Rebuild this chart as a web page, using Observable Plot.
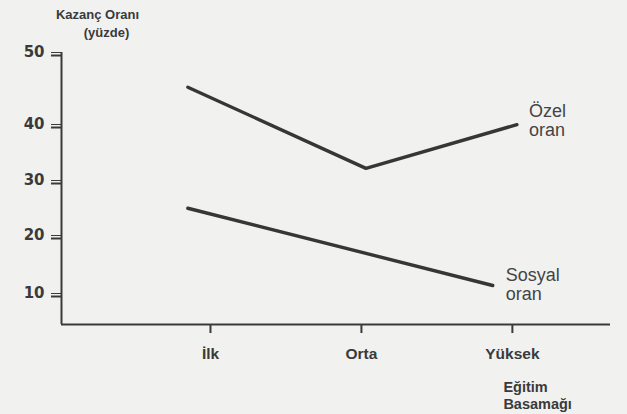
<!DOCTYPE html>
<html>
<head>
<meta charset="utf-8">
<script src="https://cdn.jsdelivr.net/npm/d3@7"></script>
<script src="https://cdn.jsdelivr.net/npm/@observablehq/plot@0.6"></script>
<style>
  html, body { margin: 0; padding: 0; background: #f1f1f0; }
  #chart svg { display: block; background: #f1f1f0; }
</style>
</head>
<body>
<div id="chart"></div>
<script>
// Education levels (x categories) and tick labels
const levels = ["İlk", "Orta", "Yüksek"];
const yTicks = [10, 20, 30, 40, 50];

// Series: x position in level units (0 = İlk, 1 = Orta, 2 = Yüksek), y = earnings rate (%)
const ozelX = [-0.15, 1.03, 2.03];
const ozelY = [45.6, 32.7, 40.4];
const sosyalX = [-0.15, 1.87];
const sosyalY = [25.5, 11.9];

const seriesNames = ["Özel\noran", "Sosyal\noran"];

const ozel = ozelX.map((x, i) => ({x, y: ozelY[i], s: "ozel"}));
const sosyal = sosyalX.map((x, i) => ({x, y: sosyalY[i], s: "sosyal"}));

const xMin = -0.987, xMax = 2.65;
const yMin = 5.2, yTop = 50.4;
const ink = "#3a3a3a";
const font = "'Liberation Sans', Arial, sans-serif";

const chart = Plot.plot({
  width: 627,
  height: 414,
  marginLeft: 61,
  marginRight: 17,
  marginTop: 52,
  marginBottom: 90,
  style: {background: "#f1f1f0", fontFamily: font, color: ink},
  x: {type: "linear", domain: [xMin, xMax], range: [61, 610]},
  y: {type: "linear", domain: [yMin, 10, 20, 30, 40, 50, yTop], range: [324, 296, 238, 183, 127, 55, 52]},
  marks: [
    // axis lines
    Plot.ruleY([yMin], {stroke: ink, strokeWidth: 2}),
    Plot.ruleX([xMin], {y1: yMin, y2: yTop, stroke: ink, strokeWidth: 2}),
    Plot.axisY({ticks: yTicks, tickSize: 10, tickPadding: 7, label: null, text: null, stroke: ink, strokeWidth: 2}),
    Plot.axisY({ticks: yTicks, tickSize: 10, tickPadding: 7, label: null, dy: -3, tick: null,
      fontSize: 15, fontWeight: "bold", fontFamily: "'DejaVu Sans', Verdana, sans-serif", fill: ink}),
    Plot.axisX({ticks: [0, 1, 2], tickFormat: (d) => levels[d], tickSize: 9, tickPadding: 14, label: null,
      fontSize: 15.5, fontWeight: "bold", stroke: ink, strokeWidth: 2, fill: ink}),
    // series lines
    Plot.line(ozel, {x: "x", y: "y", stroke: "#363636", strokeWidth: 3.4, strokeLinejoin: "round", strokeLinecap: "round"}),
    Plot.line(sosyal, {x: "x", y: "y", stroke: "#363636", strokeWidth: 3.4, strokeLinejoin: "round", strokeLinecap: "round"}),
    // series labels at line ends
    Plot.text([ozel[ozel.length - 1]], {x: "x", y: "y", text: () => seriesNames[0], textAnchor: "start",
      lineAnchor: "top", dx: 12, dy: -22, fontSize: 18, lineHeight: 1.1, fill: "#444"}),
    Plot.text([sosyal[sosyal.length - 1]], {x: "x", y: "y", text: () => seriesNames[1], textAnchor: "start",
      lineAnchor: "top", dx: 13, dy: -18, fontSize: 18, lineHeight: 1.05, fill: "#444"}),
    // y-axis title
    Plot.text(["Kazanç Oranı"], {frameAnchor: "top-left", dx: 36, dy: -34, lineAnchor: "bottom",
      textAnchor: "middle", fontSize: 13, fontWeight: "bold", fill: ink}),
    Plot.text(["(yüzde)"], {frameAnchor: "top-left", dx: 45, dy: -16, lineAnchor: "bottom",
      textAnchor: "middle", fontSize: 13, fontWeight: "bold", fill: ink}),
    // x-axis title
    Plot.text(["Eğitim\nBasamağı"], {x: 2, frameAnchor: "bottom", dx: -9, dy: 56, textAnchor: "start",
      lineAnchor: "top", fontSize: 14.5, fontWeight: "bold", lineHeight: 1.15, fill: ink})
  ]
});
document.getElementById("chart").appendChild(chart);
</script>
</body>
</html>
